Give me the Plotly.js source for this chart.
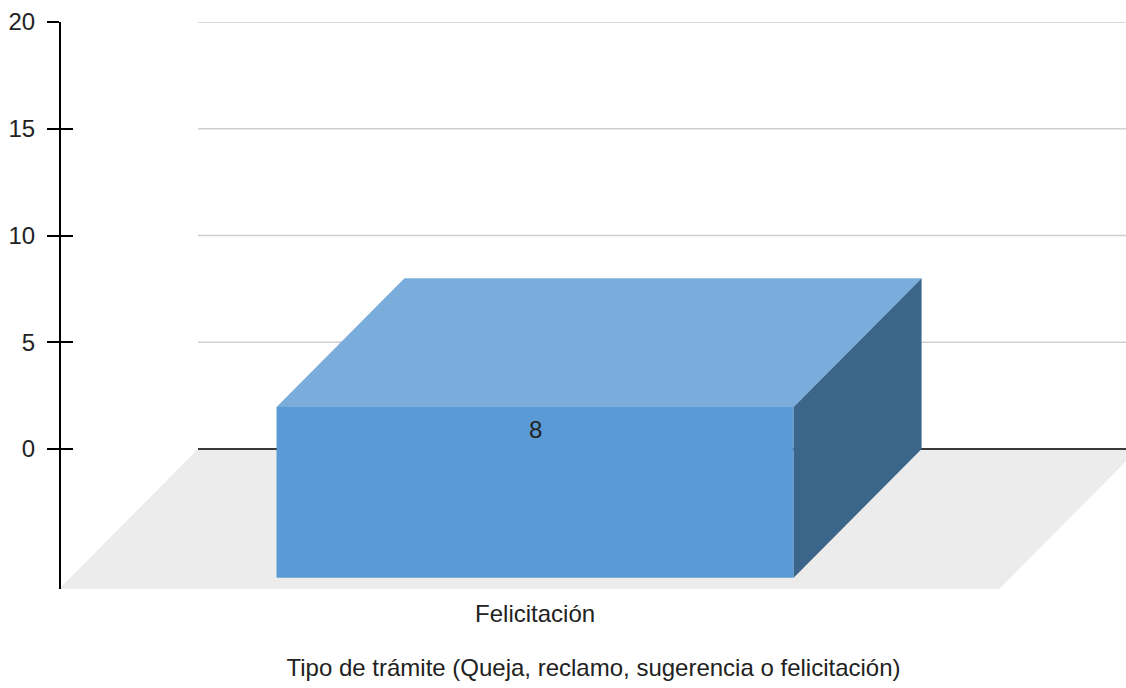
<!DOCTYPE html>
<html>
<head>
<meta charset="utf-8">
<script src="https://cdn.plot.ly/plotly-3.0.1.min.js"></script>
<style>html,body{margin:0;padding:0;background:#fff;}#chart{width:1126px;height:688px;}</style>
</head>
<body>
<div id="chart"></div>
<script>
// ---- data ----
const categories = ["Felicitación"];
const values = [8];
const yTicks = [0, 5, 10, 15, 20];
const xTitle = "Tipo de trámite (Queja, reclamo, sugerencia o felicitación)";

// ---- pseudo-3D geometry (axis units) ----
const DX = 0.1495;      // full floor depth, x units
const DY = 6.557;       // full floor depth, y units
const barDepth = 0.92;  // fraction of floor depth used by the bar
const halfW = 0.278;    // half bar width (category units)
const yMax = 20;

const FONT = "Liberation Sans, Arial, sans-serif";
const FS = 24;
const traces = [];

// floor
const nCat = categories.length;
const floorR = nCat - 0.5 + 0.011;
traces.push({
  x: [-0.5, floorR, floorR - DX, -0.5 - DX, -0.5],
  y: [0, 0, -DY, -DY, 0],
  mode: "lines", fill: "toself", fillcolor: "#ececec",
  line: {width: 0, color: "#ececec"}, hoverinfo: "skip", showlegend: false
});

// grid lines on back wall
const gx = [], gy = [];
yTicks.filter(t => t !== 0).forEach(t => { gx.push(-0.5, nCat - 0.5 + 0.2, null); gy.push(t, t, null); });
traces.push({x: gx, y: gy, mode: "lines", line: {color: "#cfcfcf", width: 1.5},
  hoverinfo: "skip", showlegend: false, cliponaxis: false});
// zero line
traces.push({x: [-0.5, nCat - 0.5 + 0.2], y: [0, 0], mode: "lines", line: {color: "#3a3a3a", width: 2},
  hoverinfo: "skip", showlegend: false});

const dX = barDepth * DX, dY = barDepth * DY;
const labelX = [];
const annotations = [];
categories.forEach((c, i) => {
  const v = values[i];
  const x0 = i - halfW, x1 = i + halfW;
  // front face
  traces.push({
    x: [x0 - dX, x1 - dX, x1 - dX, x0 - dX, x0 - dX],
    y: [v - dY, v - dY, -dY, -dY, v - dY],
    mode: "lines", fill: "toself", fillcolor: "#5b9bd5",
    line: {width: 0, color: "#5b9bd5"}, hoverinfo: "skip", showlegend: false
  });
  // top face
  traces.push({
    x: [x0 - dX, x0, x1, x1 - dX, x0 - dX],
    y: [v - dY, v, v, v - dY, v - dY],
    mode: "lines", fill: "toself", fillcolor: "#7aaddc",
    line: {width: 0, color: "#7aaddc"}, hoverinfo: "skip", showlegend: false
  });
  // side face
  traces.push({
    x: [x1 - dX, x1, x1, x1 - dX, x1 - dX],
    y: [v - dY, v, 0, -dY, v - dY],
    mode: "lines", fill: "toself", fillcolor: "#3b6589",
    line: {width: 0, color: "#3b6589"}, hoverinfo: "skip", showlegend: false
  });
  labelX.push(i - dX);
  annotations.push({
    x: i - dX, y: v - dY, xref: "x", yref: "y",
    text: String(v), showarrow: false, yanchor: "top", yshift: -7,
    font: {family: FONT, size: FS, color: "#222"}
  });
});

const layout = {
  width: 1126, height: 688,
  margin: {l: 61, r: 0, t: 22, b: 99, pad: 0},
  paper_bgcolor: "#fff", plot_bgcolor: "#fff",
  showlegend: false,
  font: {family: FONT, size: FS, color: "#222"},
  xaxis: {
    range: [-0.6473, 0.4978], fixedrange: true,
    showgrid: false, zeroline: false, showline: false,
    tickvals: labelX, ticktext: categories, ticks: "",
    ticklabelstandoff: 8,
    tickfont: {family: FONT, size: FS, color: "#222"},
    title: {text: xTitle, standoff: 33, font: {family: FONT, size: FS, color: "#222"}}
  },
  yaxis: {
    range: [-DY, yMax], fixedrange: true,
    showgrid: false, zeroline: false,
    showline: true, linecolor: "#000", linewidth: 2,
    tickvals: yTicks, ticks: "outside", ticklen: 12, tickwidth: 2, tickcolor: "#000",
    ticklabelstandoff: 7,
    tickfont: {family: FONT, size: FS, color: "#222"}
  },
  yaxis2: {
    overlaying: "y", anchor: "x", side: "left",
    range: [-DY, yMax], fixedrange: true,
    showgrid: false, zeroline: false, showline: false,
    tickvals: yTicks, ticks: "inside", ticklen: 12, tickwidth: 2, tickcolor: "#000",
    showticklabels: false
  },
  annotations: annotations
};
traces.push({x: [0], y: [0], yaxis: "y2", mode: "markers", marker: {opacity: 0}, hoverinfo: "skip", showlegend: false});

Plotly.newPlot("chart", traces, layout, {displayModeBar: false, staticPlot: true});
</script>
</body>
</html>
